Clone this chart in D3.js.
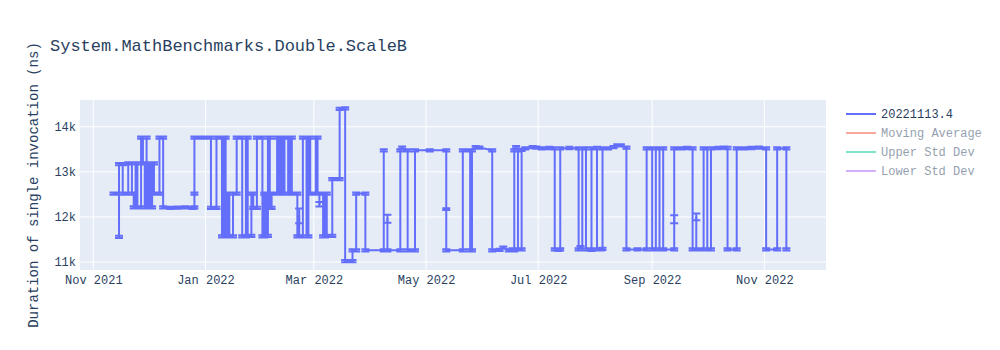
<!DOCTYPE html>
<html>
<head>
<meta charset="utf-8">
<script src="https://cdn.jsdelivr.net/npm/d3@7"></script>
<style>
  body { margin: 0; background: #fff; }
  text { font-family: "Liberation Mono", "Courier New", monospace; fill: #2a3f5f; }
</style>
</head>
<body>
<svg id="chart" width="1000" height="350"></svg>
<script>
var chartTitle = "System.MathBenchmarks.Double.ScaleB";
var yTitle = "Duration of single invocation (ns)";
var seriesNames = ["20221113.4", "Moving Average", "Upper Std Dev", "Lower Std Dev"];
var seriesColors = ["#636efa", "#EF553B", "#00cc96", "#ab63fa"];
var seriesHidden = [false, true, true, true];
var xTickDates = ["2021-11-01", "2022-01-01", "2022-03-01", "2022-05-01", "2022-07-01", "2022-09-01", "2022-11-01"];
var yTickValues = [11000, 12000, 13000, 14000];
var xRange = ["2021-10-24T18:30:00Z", "2022-12-04T13:30:00Z"];
var yRange = [10823, 14595];

// one entry per benchmark run (several runs can share a day)
var runDates = [
  // Nov - Dec 2021
  "2021-11-12","2021-11-15","2021-11-15","2021-11-15","2021-11-17","2021-11-17","2021-11-20","2021-11-20","2021-11-22","2021-11-22",
  "2021-11-23","2021-11-23","2021-11-24","2021-11-24","2021-11-25","2021-11-25","2021-11-27","2021-11-27","2021-11-28","2021-11-28",
  "2021-11-29","2021-11-29","2021-11-30","2021-11-30","2021-11-30","2021-12-01","2021-12-01","2021-12-02","2021-12-02","2021-12-03",
  "2021-12-03","2021-12-04","2021-12-04","2021-12-07","2021-12-07","2021-12-09","2021-12-09","2021-12-13","2021-12-17","2021-12-21",
  "2021-12-25","2021-12-26","2021-12-26","2021-12-26",
  // Jan - Mar 2022
  "2021-12-29","2022-01-02","2022-01-04","2022-01-04","2022-01-07","2022-01-07","2022-01-10","2022-01-10","2022-01-11","2022-01-11",
  "2022-01-12","2022-01-12","2022-01-13","2022-01-13","2022-01-14","2022-01-14","2022-01-16","2022-01-16","2022-01-18","2022-01-18",
  "2022-01-21","2022-01-21","2022-01-23","2022-01-23","2022-01-24","2022-01-24","2022-01-26","2022-01-26","2022-01-27","2022-01-27",
  "2022-01-29","2022-01-29","2022-02-01","2022-02-01","2022-02-02","2022-02-02","2022-02-03","2022-02-03","2022-02-04","2022-02-04",
  "2022-02-05","2022-02-05","2022-02-06","2022-02-06","2022-02-09","2022-02-09","2022-02-10","2022-02-10","2022-02-11","2022-02-11",
  "2022-02-12","2022-02-12","2022-02-13","2022-02-13","2022-02-15","2022-02-15","2022-02-16","2022-02-16","2022-02-17","2022-02-17",
  "2022-02-20","2022-02-20","2022-02-21","2022-02-21","2022-02-21","2022-02-23","2022-02-23","2022-02-25","2022-02-25","2022-02-26",
  "2022-02-26","2022-02-27","2022-02-27","2022-03-02","2022-03-02","2022-03-03","2022-03-03","2022-03-04","2022-03-04","2022-03-04",
  "2022-03-06","2022-03-06","2022-03-07","2022-03-07","2022-03-08","2022-03-08","2022-03-11","2022-03-11","2022-03-15","2022-03-15",
  "2022-03-18","2022-03-18","2022-03-22","2022-03-22","2022-03-24","2022-03-24","2022-03-29","2022-03-29",
  // Apr - Jun 2022
  "2022-04-08","2022-04-08","2022-04-08","2022-04-10","2022-04-10","2022-04-10","2022-04-17","2022-04-17","2022-04-18","2022-04-19",
  "2022-04-21","2022-04-21","2022-04-25","2022-04-25","2022-05-03","2022-05-12","2022-05-12","2022-05-12","2022-05-21","2022-05-21",
  "2022-05-25","2022-05-25","2022-05-26","2022-05-26","2022-05-28","2022-05-30","2022-06-06","2022-06-06","2022-06-10","2022-06-12",
  "2022-06-15","2022-06-17","2022-06-18","2022-06-18","2022-06-19","2022-06-20","2022-06-20","2022-06-22","2022-06-22","2022-06-24",
  "2022-06-28","2022-06-30",
  // Jul - Nov 2022
  "2022-07-03","2022-07-07","2022-07-10","2022-07-10","2022-07-12","2022-07-13","2022-07-13","2022-07-18","2022-07-23","2022-07-23",
  "2022-07-24","2022-07-25","2022-07-25","2022-07-27","2022-07-27","2022-07-29","2022-07-30","2022-07-30","2022-08-02","2022-08-02",
  "2022-08-04","2022-08-05","2022-08-05","2022-08-08","2022-08-11","2022-08-13","2022-08-15","2022-08-18","2022-08-18","2022-08-24",
  "2022-08-29","2022-08-29","2022-09-01","2022-09-01","2022-09-03","2022-09-03","2022-09-05","2022-09-05","2022-09-07","2022-09-07",
  "2022-09-07","2022-09-13","2022-09-13","2022-09-13","2022-09-17","2022-09-20","2022-09-23","2022-09-23","2022-09-25","2022-09-25",
  "2022-09-25","2022-09-29","2022-09-29","2022-10-01","2022-10-01","2022-10-03","2022-10-03","2022-10-07","2022-10-10","2022-10-12",
  "2022-10-12","2022-10-17","2022-10-17","2022-10-21","2022-10-25","2022-10-29","2022-11-02","2022-11-02","2022-11-08","2022-11-08",
  "2022-11-13","2022-11-13"
];

var durations = [
  12520,12520,11560,13170,13170,12520,12520,13190,13190,12520,
  12520,12210,12210,13190,13190,12210,12210,13760,13760,13190,
  13190,12210,12210,13760,12210,12210,13190,13190,12210,12210,
  13190,13190,12520,12520,13760,13760,12210,12200,12205,12210,
  12200,12210,12520,13760,

  13760,13760,13760,12200,12200,13760,13760,11570,11570,13760,
  13760,11580,11580,12520,12520,11570,11570,12520,12520,13760,
  13760,11570,11570,13760,13760,11580,11580,12520,12520,12200,
  12200,13760,13760,11570,11570,12520,12520,11580,11580,13760,
  13760,12200,12200,12520,12520,13760,13760,12520,12520,13760,
  13760,12520,12520,13760,13760,12520,12520,13760,13760,12520,
  12520,11570,11570,12025,11570,11570,13760,13760,11570,11570,
  13760,13760,12520,12520,13760,13760,12520,12520,12280,12520,
  12520,11570,11570,12520,12520,11580,11580,12840,12840,14400,
  14410,11020,11020,11260,11260,12520,12520,11260,

  11260,13480,11260,11260,11960,11260,11260,13480,13540,13480,
  13480,11260,11260,13480,13480,13480,12175,11260,11260,13480,
  13480,11260,11260,13480,13550,13540,13480,11260,11270,11320,
  11260,11280,11260,13480,13550,13480,11280,11280,13490,13520,
  13550,13540,

  13520,13530,13520,11280,11270,11280,13520,13530,13520,11280,
  11330,11280,13520,13520,11280,11280,11270,13520,13530,11280,
  11280,11290,13520,13520,13550,13590,13590,13540,11280,11280,
  11280,13520,13520,11280,11280,13520,13520,11280,11280,13520,
  11280,11280,11950,13520,13520,13530,13520,11280,11280,12000,
  11280,11280,13520,13520,11280,11280,13520,13530,13540,13530,
  11280,11280,13520,13520,13530,13540,13520,11280,11280,13520,
  13520,11280
];

// error bar half-height (ns)
var errors = [
  25,25,25,25,25,25,25,25,25,25,
  25,25,25,25,25,25,25,25,25,25,
  25,25,25,25,25,25,25,25,25,25,
  25,25,25,25,25,25,25,25,25,25,
  25,25,25,25,

  25,25,25,25,25,25,25,25,25,25,
  25,25,25,25,25,25,25,25,25,25,
  25,25,25,25,25,25,25,25,25,25,
  25,25,25,25,25,25,25,25,25,25,
  25,25,25,25,25,25,25,25,25,25,
  25,25,25,25,25,25,25,25,25,25,
  25,25,25,165,25,25,25,25,25,25,
  25,25,25,25,25,25,25,25,50,25,
  25,25,25,25,25,25,25,25,25,25,
  25,25,25,25,25,25,25,25,

  25,25,25,25,90,25,25,25,25,25,
  25,25,25,25,25,25,20,25,25,25,
  25,25,25,25,25,25,25,25,25,25,
  25,25,25,25,25,25,25,25,25,25,
  25,25,

  25,25,25,25,25,25,25,25,25,25,
  25,25,25,25,25,25,25,25,25,25,
  25,25,25,25,25,25,25,25,25,25,
  25,25,25,25,25,25,25,25,25,25,
  25,25,90,25,25,25,25,25,25,75,
  25,25,25,25,25,25,25,25,25,25,
  25,25,25,25,25,25,25,25,25,25,
  25,25
];

(function() {
  var svg = d3.select("#chart");
  var plot = { left: 80, right: 826, top: 100, bottom: 270 };
  var parseDay = d3.utcParse("%Y-%m-%d");

  var points = runDates.map(function(d, i) {
    return { date: parseDay(d), value: durations[i], err: errors[i] };
  });

  var x = d3.scaleUtc()
      .domain(xRange.map(function(d) { return new Date(d); }))
      .range([plot.left, plot.right]);
  var y = d3.scaleLinear()
      .domain(yRange)
      .range([plot.bottom, plot.top]);

  svg.append("rect")
    .attr("width", 1000).attr("height", 350).attr("fill", "#fff");
  svg.append("rect")
    .attr("x", plot.left).attr("y", plot.top)
    .attr("width", plot.right - plot.left).attr("height", plot.bottom - plot.top)
    .attr("fill", "#E5ECF6");

  var xTicks = xTickDates.map(parseDay);

  // grid
  svg.append("g").selectAll("line")
    .data(xTicks).enter().append("line")
      .attr("x1", function(d) { return x(d); }).attr("x2", function(d) { return x(d); })
      .attr("y1", plot.top).attr("y2", plot.bottom)
      .attr("stroke", "#fff").attr("stroke-width", 1);
  svg.append("g").selectAll("line")
    .data(yTickValues).enter().append("line")
      .attr("x1", plot.left).attr("x2", plot.right)
      .attr("y1", function(d) { return y(d); }).attr("y2", function(d) { return y(d); })
      .attr("stroke", "#fff").attr("stroke-width", 1);

  // axes
  var xAxis = svg.append("g")
    .attr("transform", "translate(0," + plot.bottom + ")")
    .call(d3.axisBottom(x).tickValues(xTicks).tickFormat(d3.utcFormat("%b %Y")).tickSize(0).tickPadding(5));
  var yAxis = svg.append("g")
    .attr("transform", "translate(" + plot.left + ",0)")
    .call(d3.axisLeft(y).tickValues(yTickValues).tickFormat(d3.format("~s")).tickSize(0).tickPadding(4));
  [xAxis, yAxis].forEach(function(a) {
    a.select(".domain").remove();
    a.selectAll("text").attr("font-family", null).attr("font-size", 12).attr("fill", "#2a3f5f");
  });

  svg.append("clipPath").attr("id", "plot-clip")
    .append("rect")
      .attr("x", plot.left).attr("y", plot.top)
      .attr("width", plot.right - plot.left).attr("height", plot.bottom - plot.top);

  var g = svg.append("g").attr("clip-path", "url(#plot-clip)");

  // error bars
  var capHalf = 4;
  g.append("path")
    .attr("fill", "none")
    .attr("stroke", seriesColors[0])
    .attr("stroke-width", 2)
    .attr("d", points.map(function(p) {
      var px = x(p.date), hi = y(p.value + p.err), lo = y(p.value - p.err);
      return "M" + px + "," + hi + "V" + lo +
        "M" + (px - capHalf) + "," + hi + "h" + (2 * capHalf) +
        "M" + (px - capHalf) + "," + lo + "h" + (2 * capHalf);
    }).join(""));

  var line = d3.line()
    .x(function(p) { return x(p.date); })
    .y(function(p) { return y(p.value); });

  g.append("path")
    .datum(points)
    .attr("fill", "none")
    .attr("stroke", seriesColors[0])
    .attr("stroke-width", 2)
    .attr("stroke-linejoin", "round")
    .attr("d", line);

  // titles
  svg.append("text")
    .attr("x", 50).attr("y", 51)
    .attr("font-size", 17)
    .text(chartTitle);
  svg.append("text")
    .attr("transform", "translate(33," + ((plot.top + plot.bottom) / 2) + ") rotate(-90)")
    .attr("text-anchor", "middle")
    .attr("dy", "0.35em")
    .attr("font-size", 14)
    .text(yTitle);

  // legend
  var legend = svg.append("g").attr("transform", "translate(846,114)");
  var item = legend.selectAll("g")
    .data(seriesNames).enter().append("g")
      .attr("transform", function(d, i) { return "translate(0," + (i * 19) + ")"; })
      .attr("opacity", function(d, i) { return seriesHidden[i] ? 0.5 : 1; });
  item.append("line")
    .attr("x1", 0).attr("x2", 30)
    .attr("stroke", function(d, i) { return seriesColors[i]; })
    .attr("stroke-width", 2);
  item.append("text")
    .attr("x", 35).attr("dy", "0.35em")
    .attr("font-size", 12)
    .text(function(d) { return d; });
})();
</script>
</body>
</html>
